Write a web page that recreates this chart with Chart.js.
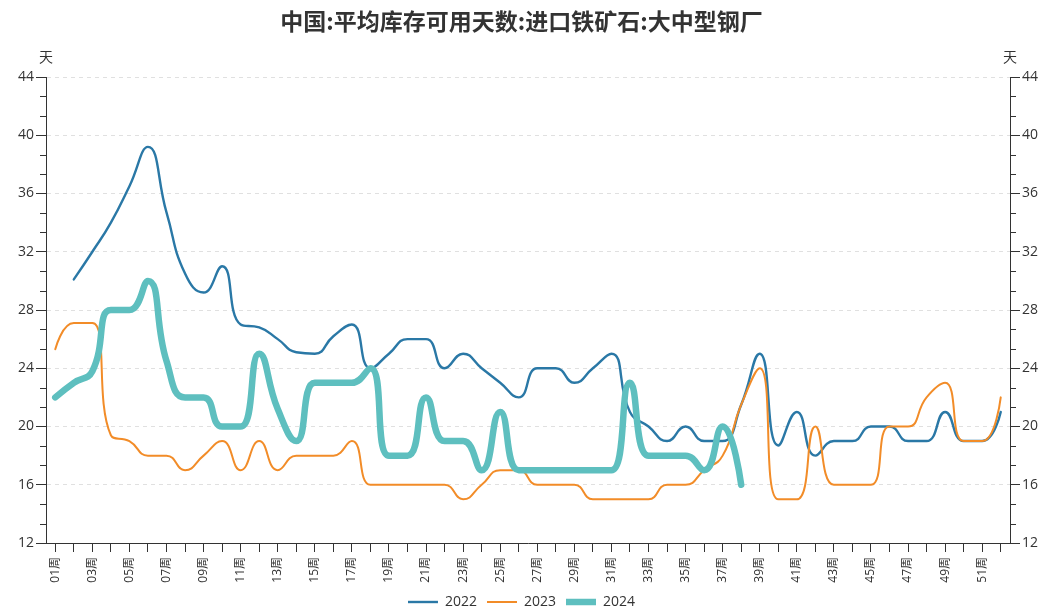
<!DOCTYPE html>
<html>
<head>
<meta charset="utf-8">
<script src="https://cdn.jsdelivr.net/npm/chart.js@4.4.1/dist/chart.umd.min.js"></script>
<style>
html, body { margin: 0; padding: 0; background: #fff; }
</style>
</head>
<body>
<canvas id="chart" width="1043" height="609"></canvas>
<script>
"use strict";
var weeks = ['01周', '02周', '03周', '04周', '05周', '06周', '07周', '08周', '09周', '10周',
    '11周', '12周', '13周', '14周', '15周', '16周', '17周', '18周', '19周', '20周',
    '21周', '22周', '23周', '24周', '25周', '26周', '27周', '28周', '29周', '30周',
    '31周', '32周', '33周', '34周', '35周', '36周', '37周', '38周', '39周', '40周',
    '41周', '42周', '43周', '44周', '45周', '46周', '47周', '48周', '49周', '50周',
    '51周', '52周'];
var values2022 = [null, 30.1, 32, 34, 36.5, 39.2, 34.7, 30.5, 29.2, 31,
    27, 26.8, 26, 25.1, 25, 26.2, 27, 24, 25, 26,
    26, 24, 25, 24, 23, 22, 24, 24, 23, 24,
    25, 21, 20, 19, 20, 19, 19, 21.5, 25, 18.7,
    21, 18, 19, 19, 20, 20, 19, 19, 21, 19,
    19, 21];
var values2023 = [25.3, 27.1, 27.1, 19.4, 19, 18, 18, 17, 18, 19,
    17, 19, 17, 18, 18, 18, 19, 16, 16, 16,
    16, 16, 15, 16, 17, 17, 16, 16, 16, 15,
    15, 15, 15, 16, 16, 17, 18, 21.5, 24, 15,
    15, 20, 16, 16, 16, 20, 20, 22, 23, 19,
    19, 22];
var values2024 = [22, 23, 23.8, 28, 28, 30, 24.5, 22, 22, 20,
    20, 25, 21.2, 19, 23, 23, 23, 24, 18, 18,
    22, 19, 19, 17, 21, 17, 17, 17, 17, 17,
    17, 23, 18, 18, 18, 17, 20, 16, null, null,
    null, null, null, null, null, null, null, null, null, null,
    null, null];
var yTicks = [12, 16, 20, 24, 28, 32, 36, 40, 44];
var unitLabel = '天';
var titleText = '中国:平均库存可用天数:进口铁矿石:大中型钢厂';

Chart.defaults.font.family = "'Open Sans', 'Noto Sans CJK SC', sans-serif";
Chart.defaults.color = '#333';

function clamp(v, a, b) {
    return Math.max(Math.min(v, Math.max(a, b)), Math.min(a, b));
}

// smooth curve with control points kept inside the neighbour box (no overshoot)
function smoothRun(p, smooth) {
    var n = p.length;
    if (!n) return;
    p[0].cp1x = p[0].x; p[0].cp1y = p[0].y;
    p[0].cp2x = p[0].x; p[0].cp2y = p[0].y;
    for (var i = 1; i < n; i++) {
        var prev = p[i - 1], cur = p[i], next = p[i + 1];
        var x = cur.x, y = cur.y;
        var cpx1 = x, cpy1 = y, ncx = x, ncy = y;
        if (next) {
            var vx = next.x - prev.x, vy = next.y - prev.y;
            var dx0 = x - prev.x, dy0 = y - prev.y, dx1 = next.x - x, dy1 = next.y - y;
            var lp = Math.sqrt(dx0 * dx0 + dy0 * dy0);
            var ln = Math.sqrt(dx1 * dx1 + dy1 * dy1);
            var r = ln / (ln + lp);
            ncx = clamp(x + vx * smooth * r, next.x, x);
            ncy = clamp(y + vy * smooth * r, next.y, y);
            vx = ncx - x; vy = ncy - y;
            cpx1 = clamp(x - vx * lp / ln, prev.x, x);
            cpy1 = clamp(y - vy * lp / ln, prev.y, y);
            vx = x - cpx1; vy = y - cpy1;
            ncx = x + vx * ln / lp;
            ncy = y + vy * ln / lp;
        }
        cur.cp1x = cpx1; cur.cp1y = cpy1;
        cur.cp2x = ncx; cur.cp2y = ncy;
    }
}

var smoothLines = {
    id: 'smoothLines',
    beforeDatasetDraw: function (chart, args) {
        var line = args.meta.dataset;
        var pts = args.meta.data;
        line.updateControlPoints(chart.chartArea, 'x');
        var run = [];
        for (var i = 0; i <= pts.length; i++) {
            if (i < pts.length && !pts[i].skip) { run.push(pts[i]); continue; }
            smoothRun(run, 0.5);
            run = [];
        }
    }
};

// minor ticks on both y axes + unit labels above them
var axisExtras = {
    id: 'axisExtras',
    afterDraw: function (chart) {
        var ctx = chart.ctx;
        var left = chart.scales.y;
        var right = chart.scales.y2;
        ctx.save();
        ctx.strokeStyle = '#333';
        ctx.lineWidth = 1;
        ctx.beginPath();
        for (var i = 0; i < yTicks.length - 1; i++) {
            for (var k = 1; k < 3; k++) {
                var v = yTicks[i] + (yTicks[i + 1] - yTicks[i]) * k / 3;
                var py = Math.round(left.getPixelForValue(v)) + 0.5;
                ctx.moveTo(left.right - 6, py);
                ctx.lineTo(left.right, py);
                ctx.moveTo(right.left, py);
                ctx.lineTo(right.left + 6, py);
            }
        }
        ctx.stroke();
        ctx.fillStyle = '#333';
        ctx.font = "14px 'Noto Sans CJK SC'";
        ctx.textAlign = 'center';
        ctx.textBaseline = 'middle';
        ctx.fillText(unitLabel, left.right, chart.chartArea.top - 20);
        ctx.fillText(unitLabel, right.left, chart.chartArea.top - 20);
        ctx.restore();
    }
};

function yAxis(position, width, onArea) {
    return {
        position: position,
        min: 12,
        max: 44,
        afterBuildTicks: function (scale) {
            scale.ticks = yTicks.map(function (v) { return { value: v }; });
        },
        afterFit: function (scale) { scale.width = width; },
        grid: {
            drawOnChartArea: onArea,
            color: '#e0e0e0',
            tickColor: '#333',
            tickLength: 10
        },
        border: { display: true, color: '#333', width: 1, dash: [4, 4] },
        ticks: { color: '#333', font: { size: 14 }, padding: 2 }
    };
}

var padBottom = -10;

new Chart(document.getElementById('chart'), {
    type: 'line',
    data: {
        labels: weeks,
        datasets: [{
            label: '2022',
            data: values2022,
            borderColor: '#2a78a6',
            backgroundColor: '#2a78a6',
            borderWidth: 2.4,
            order: 3
        }, {
            label: '2023',
            data: values2023,
            borderColor: '#f28c28',
            backgroundColor: '#f28c28',
            borderWidth: 2,
            order: 2
        }, {
            label: '2024',
            data: values2024,
            borderColor: '#5ebfbf',
            backgroundColor: '#5ebfbf',
            borderWidth: 6.5,
            order: 1
        }]
    },
    options: {
        responsive: false,
        animation: false,
        devicePixelRatio: 1,
        layout: { padding: { top: 0, left: 0, right: 0, bottom: padBottom } },
        elements: {
            line: { tension: 0.5, fill: false, borderCapStyle: 'round' },
            point: { radius: 0, hoverRadius: 0, pointStyle: 'line' }
        },
        datasets: { line: { pointStyle: 'line', spanGaps: false } },
        plugins: {
            title: {
                display: true,
                text: titleText,
                color: '#333',
                font: { size: 23, weight: 'bold', family: "'Noto Sans CJK SC'" },
                padding: { top: 7, bottom: 42.4 }
            },
            legend: {
                position: 'bottom',
                labels: {
                    usePointStyle: true,
                    pointStyleWidth: 30,
                    color: '#333',
                    font: { size: 14 },
                    padding: 10,
                    sort: function (a, b) { return a.datasetIndex - b.datasetIndex; }
                }
            },
            tooltip: { enabled: false }
        },
        scales: {
            x: {
                offset: true,
                grid: { offset: false, drawOnChartArea: false, tickColor: '#333', tickLength: 9 },
                border: { color: '#333' },
                ticks: {
                    autoSkip: false,
                    minRotation: 90,
                    maxRotation: 90,
                    color: '#333',
                    font: { size: 12 },
                    padding: 5,
                    callback: function (value, index) {
                        return index % 2 === 0 ? this.getLabelForValue(value) : '';
                    }
                },
                afterFit: function (scale) {
                    scale.height = scale.chart.height - padBottom - 543 - scale.chart.legend.height;
                }
            },
            y: yAxis('left', 46, true),
            y2: yAxis('right', 33, false)
        }
    },
    plugins: [smoothLines, axisExtras]
});
</script>
</body>
</html>
